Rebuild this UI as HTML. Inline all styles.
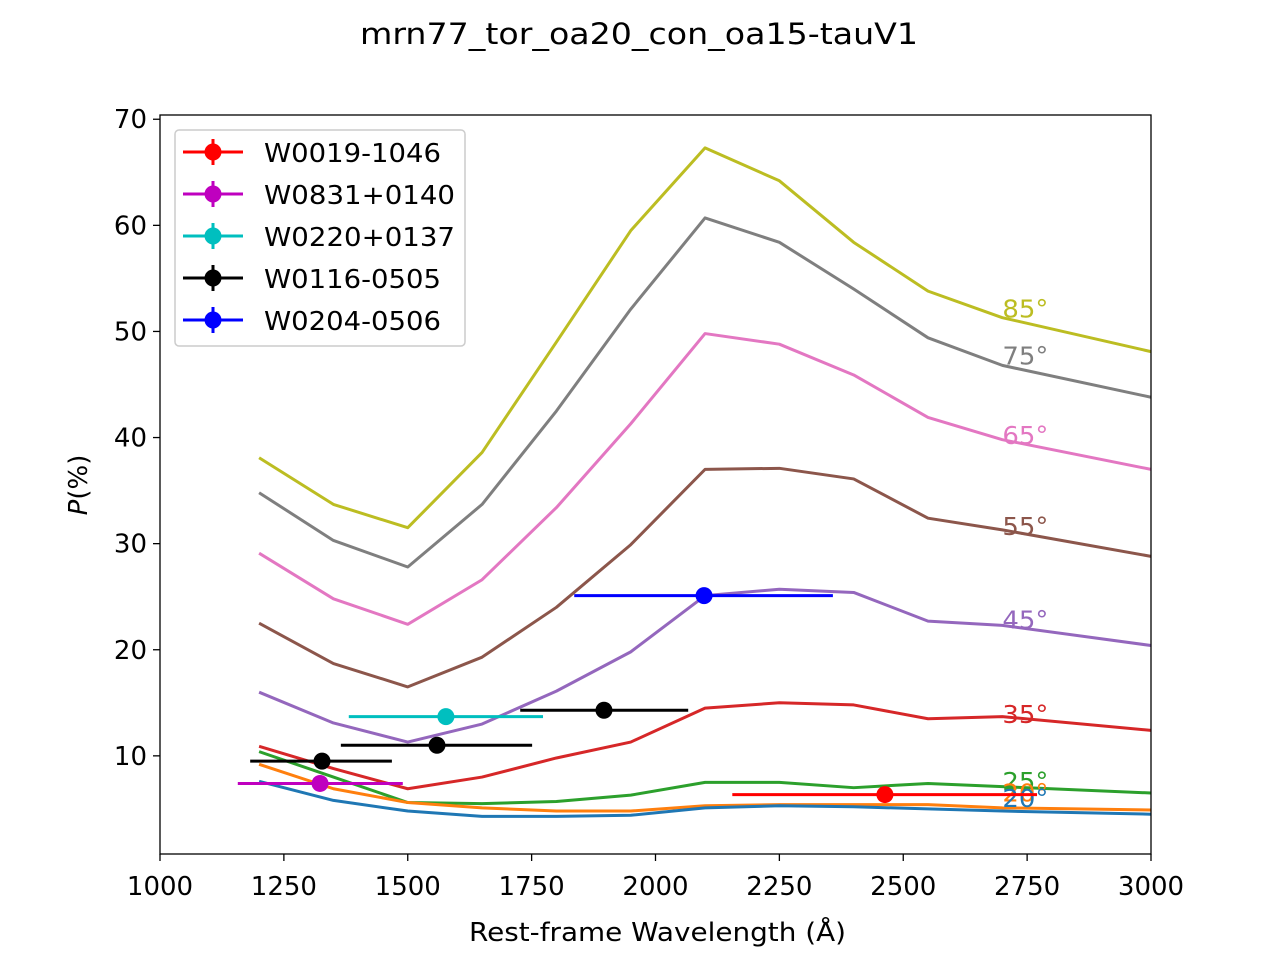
<!DOCTYPE html>
<html><head><meta charset="utf-8"><style>
body{margin:0;background:#fff;}
svg text{font-family:"DejaVu Sans","Liberation Sans",sans-serif;}
</style></head><body>
<svg id="chart" width="1280" height="960" xmlns="http://www.w3.org/2000/svg">
<rect width="1280" height="960" fill="#fff"/>
<text x="360" y="44" font-size="29" textLength="558" lengthAdjust="spacingAndGlyphs">mrn77_tor_oa20_con_oa15-tauV1</text>
<g id="curves"></g>
<g id="points"></g>
<g id="axes"></g>
<g id="legend"></g>
</svg>
<script>
const wavelengths=[1200,1350,1500,1650,1800,1950,2100,2250,2400,2550,2700,3000];
const angleLabels=["85°","75°","65°","55°","45°","35°","25°","20°","20°"];
const angleColors=["#bcbd22","#7f7f7f","#e377c2","#8c564b","#9467bd","#d62728","#2ca02c","#ff7f0e","#1f77b4"];
const p85=[38.1,33.7,31.5,38.6,49.0,59.5,67.3,64.2,58.4,53.8,51.3,48.1];
const p75=[34.8,30.3,27.8,33.7,42.5,52.1,60.7,58.4,54.0,49.4,46.8,43.8];
const p65=[29.1,24.8,22.4,26.6,33.4,41.3,49.8,48.8,45.9,41.9,39.8,37.0];
const p55=[22.5,18.7,16.5,19.3,24.0,29.9,37.0,37.1,36.1,32.4,31.3,28.8];
const p45=[16.0,13.1,11.3,13.0,16.1,19.8,25.1,25.7,25.4,22.7,22.3,20.4];
const p35=[10.9,8.8,6.9,8.0,9.8,11.3,14.5,15.0,14.8,13.5,13.7,12.4];
const p25=[10.4,8.0,5.6,5.5,5.7,6.3,7.5,7.5,7.0,7.4,7.1,6.5];
const p20=[9.2,6.9,5.6,5.1,4.8,4.8,5.3,5.4,5.4,5.4,5.1,4.9];
const p10=[7.6,5.8,4.8,4.3,4.3,4.4,5.1,5.3,5.2,5.0,4.8,4.5];
const obsNames=["W0019-1046","W0831+0140","W0220+0137","W0116-0505","W0116-0505","W0116-0505","W0204-0506"];
const obsColors=["#ff0000","#bf00bf","#00bfbf","#000000","#000000","#000000","#0000ff"];
const obsX=[2463,1323,1577,1327,1559,1896,2098];
const obsXlo=[2155,1157,1381,1182,1365,1727,1836];
const obsXhi=[2770,1490,1773,1468,1751,2066,2358];
const obsY=[6.35,7.4,13.7,9.5,11.0,14.3,25.1];
const legendNames=["W0019-1046","W0831+0140","W0220+0137","W0116-0505","W0204-0506"];
const legendColors=["#ff0000","#bf00bf","#00bfbf","#000000","#0000ff"];
const xTicks=[1000,1250,1500,1750,2000,2250,2500,2750,3000];
const yTicks=[10,20,30,40,50,60,70];

const NS="http://www.w3.org/2000/svg";
const L=160,R=1151,T=115,B=854;
const X0=1000,X1=3000,Y0=0.75,Y1=70.4;
const sx=v=>L+(v-X0)/(X1-X0)*(R-L);
const sy=v=>B-(v-Y0)/(Y1-Y0)*(B-T);
function mk(tag,attrs,parent){const e=document.createElementNS(NS,tag);for(const k in attrs)e.setAttribute(k,attrs[k]);parent.appendChild(e);return e;}
const curves=document.getElementById('curves');
const series=[p85,p75,p65,p55,p45,p35,p25,p20,p10];
const labelY=[51.3,46.9,39.4,30.8,22.0,13.1,6.8,5.7,5.2];
series.forEach((s,i)=>{
  const pl=mk('polyline',{points:s.map((v,j)=>sx(wavelengths[j])+','+sy(v)).join(' '),fill:'none',stroke:angleColors[i],'stroke-width':3,'stroke-linejoin':'round'},curves);
  
  
  const t=mk('text',{x:sx(2700),y:sy(labelY[i]),fill:angleColors[i],'font-size':25,textLength:46,lengthAdjust:'spacingAndGlyphs'},curves);
  t.textContent=angleLabels[i];
  
  
});
const pts=document.getElementById('points');
obsX.forEach((x,i)=>{
  const g=mk('g',{},pts);
  
  
  mk('line',{x1:sx(obsXlo[i]),x2:sx(obsXhi[i]),y1:sy(obsY[i]),y2:sy(obsY[i]),stroke:obsColors[i],'stroke-width':3},g);
  mk('circle',{cx:sx(x),cy:sy(obsY[i]),r:8.5,fill:obsColors[i]},g);
});
const ax=document.getElementById('axes');
mk('rect',{x:L,y:T,width:R-L,height:B-T,fill:'none',stroke:'#000','stroke-width':1.3},ax);
xTicks.forEach(v=>{
  mk('line',{x1:sx(v),x2:sx(v),y1:B,y2:B+7,stroke:'#000','stroke-width':1.3},ax);
  const t=mk('text',{x:sx(v),y:B+41,'text-anchor':'middle','font-size':26},ax);t.textContent=v;
  
  
});
yTicks.forEach(v=>{
  mk('line',{x1:L-7,x2:L,y1:sy(v),y2:sy(v),stroke:'#000','stroke-width':1.3},ax);
  const t=mk('text',{x:L-13,y:sy(v)+9,'text-anchor':'end','font-size':26},ax);t.textContent=v;
  
  
});
let t=mk('text',{x:469,y:941,'font-size':26,textLength:377,lengthAdjust:'spacingAndGlyphs'},ax);t.textContent='Rest-frame Wavelength (Å)';


t=mk('text',{x:87,y:485,'text-anchor':'middle','font-size':26,transform:'rotate(-90 87 485)'},ax);
t.innerHTML='<tspan font-style="italic">P</tspan>(%)';


const lg=document.getElementById('legend');


mk('rect',{x:175,y:130,width:290,height:216,rx:4,fill:'#fff','fill-opacity':0.8,stroke:'#ccc','stroke-width':1.5},lg);
legendNames.forEach((n,i)=>{
  const y=152+i*42;
  const g=mk('g',{},lg);
  
  
  mk('line',{x1:183,x2:243,y1:y,y2:y,stroke:legendColors[i],'stroke-width':3},g);
  mk('line',{x1:213,x2:213,y1:y-13,y2:y+13,stroke:legendColors[i],'stroke-width':3},g);
  mk('circle',{cx:213,cy:y,r:8.5,fill:legendColors[i]},g);
  const tt=mk('text',{x:264,y:y+10,'font-size':26,textLength:(n.indexOf('+')>=0?191:177),lengthAdjust:'spacingAndGlyphs'},g);tt.textContent=n;
});
</script>
</body></html>
